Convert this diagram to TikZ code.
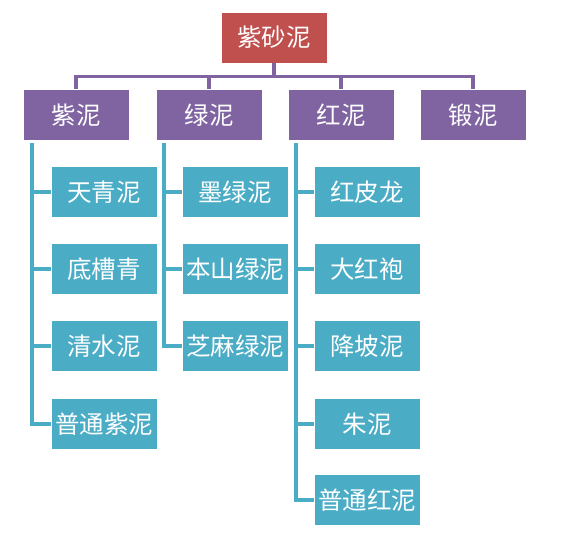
\documentclass[tikz,border=0pt]{standalone}
\usepackage{fontspec}
\newfontfamily\cjk{Noto Sans CJK SC}
\definecolor{rootred}{HTML}{C0504D}
\definecolor{midpurple}{HTML}{8064A2}
\definecolor{leafteal}{HTML}{4BACC6}
\begin{document}
\begin{tikzpicture}[x=1pt,y=-1pt,
  box/.style={draw=white,line width=0.6pt,minimum width=106pt,minimum height=51pt,inner sep=0pt,text=white,font=\cjk\fontsize{24.5}{28}\selectfont},
  rootbox/.style={box,fill=rootred},
  midbox/.style={box,fill=midpurple},
  leafbox/.style={box,fill=leafteal},
  bus/.style={draw=midpurple,line width=3.4pt},
  leafline/.style={draw=leafteal,line width=3.4pt}]
\useasboundingbox[fill=white] (0,0) rectangle (565,544);
\node[rootbox] (top) at (274,37.5) {紫砂泥};
\node[midbox] (m1) at (76,115) {紫泥};
\node[midbox] (m2) at (209,115) {绿泥};
\node[midbox] (m3) at (341,115) {红泥};
\node[midbox] (m4) at (473,115) {锻泥};
% children
\node[leafbox] (a1) at (104,192) {天青泥};
\node[leafbox] (a2) at (104,269) {底槽青};
\node[leafbox] (a3) at (104,346) {清水泥};
\node[leafbox] (a4) at (104,424) {普通紫泥};
\node[leafbox] (b1) at (235,192) {墨绿泥};
\node[leafbox] (b2) at (235,269) {本山绿泥};
\node[leafbox] (b3) at (235,346) {芝麻绿泥};
\node[leafbox] (c1) at (367,192) {红皮龙};
\node[leafbox] (c2) at (367,269) {大红袍};
\node[leafbox] (c3) at (367,346) {降坡泥};
\node[leafbox] (c4) at (367,424) {朱泥};
\node[leafbox] (c5) at (367,500) {普通红泥};
% bus
\foreach \m in {m1,m2,m3,m4}{
  \draw[bus] (top.south) -- ++(0,13) -| (\m.north);
}
% leaf connectors
\coordinate (va) at (32,143);
\coordinate (vb) at (164,143);
\coordinate (vc) at (296,143);
\foreach \c in {a1,a2,a3,a4}{\draw[leafline] (va) |- (\c.west);}
\foreach \c in {b1,b2,b3}{\draw[leafline] (vb) |- (\c.west);}
\foreach \c in {c1,c2,c3,c4,c5}{\draw[leafline] (vc) |- (\c.west);}
\end{tikzpicture}
\end{document}
